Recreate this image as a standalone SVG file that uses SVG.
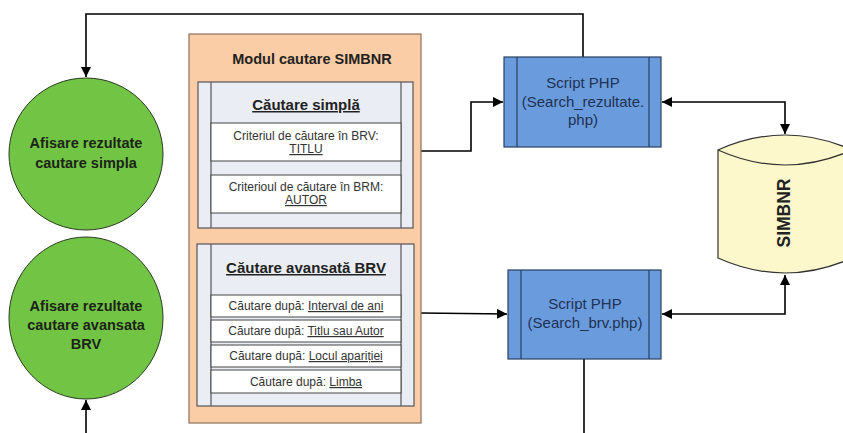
<svg xmlns="http://www.w3.org/2000/svg" width="843" height="433" viewBox="0 0 843 433">
<defs>
<marker id="ah" viewBox="0 0 10 10" refX="10" refY="5" markerWidth="10" markerHeight="10" markerUnits="userSpaceOnUse" orient="auto-start-reverse">
<path d="M0,0 L10,5 L0,10 z" fill="#000"/>
</marker>
<style>
.conn{fill:none;stroke:#000;stroke-width:1.6}
.circ{fill:#72c445;stroke:#2a3a20;stroke-width:1}
.ctext{font-family:"Liberation Sans",Arial,sans-serif;font-weight:bold;font-size:14.5px;fill:#1c2418;text-anchor:middle}
.php{fill:#6a9bdc;stroke:#2a3e60;stroke-width:1.2}
.phpl{stroke:#2a3e60;stroke-width:1.2}
.ptext{font-family:"Liberation Sans",Arial,sans-serif;font-size:15px;fill:#1e3254;text-anchor:middle}
.panel{fill:#eaeef4;stroke:#555;stroke-width:1.2}
.pl{stroke:#555;stroke-width:1.2}
.row{fill:#fff;stroke:#444;stroke-width:1}
.rtext{font-family:"Liberation Sans",Arial,sans-serif;font-size:12px;fill:#333;text-anchor:middle}
.ttext{font-family:"Liberation Sans",Arial,sans-serif;font-size:15px;font-weight:bold;fill:#222;text-anchor:middle;text-decoration:underline}
.u{text-decoration:underline}
</style>
</defs>
<rect width="843" height="433" fill="#fff"/>

<g id="connectors">
<path class="conn" d="M583,57 V14 H86 V77" marker-end="url(#ah)"/>
<path class="conn" d="M421,151 H471 V102 H503" marker-end="url(#ah)"/>
<path class="conn" d="M421,313 L507,314" marker-end="url(#ah)"/>
<path class="conn" d="M662,102 H785 V134" marker-start="url(#ah)" marker-end="url(#ah)"/>
<path class="conn" d="M662,314 H785 V275" marker-start="url(#ah)" marker-end="url(#ah)"/>
<path class="conn" d="M584,359 V433"/>
<path class="conn" d="M86,433 V400" marker-end="url(#ah)"/>
</g>

<g id="modul">
<rect x="189" y="34" width="232" height="389" fill="#fbcda6" stroke="#8e705c" stroke-width="1.2"/>
<text x="312" y="64" font-family="Liberation Sans, Arial, sans-serif" font-size="14.5px" font-weight="bold" fill="#222" text-anchor="middle">Modul cautare SIMBNR</text>
</g>

<g id="cautare-simpla">
<rect class="panel" x="198" y="82" width="215" height="146"/>
<line class="pl" x1="211" y1="82" x2="211" y2="228"/>
<line class="pl" x1="401" y1="82" x2="401" y2="228"/>
<text class="ttext" x="306" y="110">Căutare simplă</text>
<rect class="row" x="211" y="123" width="190" height="38"/>
<text class="rtext" x="306" y="140">Criteriul de căutare în BRV:</text>
<text class="rtext u" x="306" y="153">TITLU</text>
<rect class="row" x="211" y="175" width="190" height="38"/>
<text class="rtext" x="306" y="191">Criterioul de căutare în BRM:</text>
<text class="rtext u" x="306" y="204">AUTOR</text>
</g>

<g id="cautare-avansata">
<rect class="panel" x="197" y="244" width="217" height="162"/>
<line class="pl" x1="211" y1="244" x2="211" y2="406"/>
<line class="pl" x1="401" y1="244" x2="401" y2="406"/>
<text class="ttext" x="306" y="273">Căutare avansată BRV</text>
<rect class="row" x="211" y="295" width="190" height="22"/>
<text class="rtext" x="306" y="310">Căutare după: <tspan class="u">Interval de ani</tspan></text>
<rect class="row" x="211" y="320" width="190" height="22"/>
<text class="rtext" x="306" y="335">Căutare după: <tspan class="u">Titlu sau Autor</tspan></text>
<rect class="row" x="211" y="345" width="190" height="22"/>
<text class="rtext" x="306" y="360">Căutare după: <tspan class="u">Locul apariției</tspan></text>
<rect class="row" x="211" y="370" width="190" height="23"/>
<text class="rtext" x="306" y="386">Căutare după: <tspan class="u">Limba</tspan></text>
</g>

<g id="afisare-simpla">
<ellipse class="circ" cx="86" cy="154" rx="77" ry="76"/>
<text class="ctext" x="86" y="148">Afisare rezultate</text>
<text class="ctext" x="86" y="168">cautare simpla</text>
</g>

<g id="afisare-avansata">
<ellipse class="circ" cx="86" cy="318" rx="77" ry="81"/>
<text class="ctext" x="86" y="311">Afisare rezultate</text>
<text class="ctext" x="86" y="330">cautare avansata</text>
<text class="ctext" x="86" y="349">BRV</text>
</g>

<g id="script-rezultate">
<rect class="php" x="504" y="57" width="157" height="90"/>
<line class="phpl" x1="517" y1="57" x2="517" y2="147"/>
<line class="phpl" x1="649" y1="57" x2="649" y2="147"/>
<text class="ptext" x="583" y="88">Script PHP</text>
<text class="ptext" x="583" y="107">(Search_rezultate.</text>
<text class="ptext" x="583" y="125">php)</text>
</g>

<g id="script-brv">
<rect class="php" x="508" y="270" width="153" height="89"/>
<line class="phpl" x1="521" y1="270" x2="521" y2="359"/>
<line class="phpl" x1="649" y1="270" x2="649" y2="359"/>
<text class="ptext" x="585" y="309">Script PHP</text>
<text class="ptext" x="585" y="328">(Search_brv.php)</text>
</g>

<g id="simbnr">
<path d="M718,150 Q785,120 852,150 V258 Q785,288 718,258 Z" fill="#fcf8cc" stroke="#333" stroke-width="1.2"/>
<path d="M718,150 Q785,180 852,150" fill="none" stroke="#333" stroke-width="1.2"/>
<text transform="translate(790,213) rotate(-90)" font-family="Liberation Sans, Arial, sans-serif" font-size="17.5px" font-weight="bold" fill="#222" text-anchor="middle">SIMBNR</text>
</g>
</svg>
